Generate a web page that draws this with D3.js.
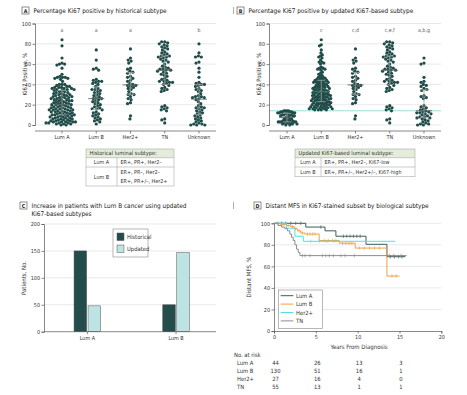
<!DOCTYPE html>
<html><head><meta charset="utf-8">
<script src="https://cdn.jsdelivr.net/npm/d3@7"></script>
<style>
body{margin:0;background:#fff}
svg{display:block}
text{font-family:"Liberation Sans Narrow","DejaVu Sans Condensed","Arial Narrow",sans-serif;}
</style>
</head><body>
<svg id="c" width="467" height="395"></svg>
<script>
// ---------------- DATA ----------------
const subtypes = ["Lum A","Lum B","Her2+","TN","Unknown"];

// Panel A: Ki67 % by historical subtype
const histLumA = [84,78,66,61,60,60,59,56,50,48,47,47,47,46,46,45,43,
 40,40,40,39,38,38,37,37,37,36,36,36,35,35,35,34,34,33,33,32,32,31,31,30,30,30,
 29,29,28,28,28,27,27,27,26,26,25,25,25,24,24,24,23,23,22,22,22,21,21,20,20,20,20,
 19,19,18,18,18,17,17,17,16,16,16,15,15,15,15,14,14,14,13,13,13,12,12,12,11,11,11,10,10,10,10,
 9,9,9,8,8,8,7,7,7,6,6,6,5,5,5,4,4,4,3,3,3,3,3,2,2,2,2,1,1,1,0,0];
const histLumB = [74,64,56,55,54,45,44,43,43,42,41,40,38,36,35,35,34,33,32,31,30,29,28,27,26,26,25,24,23,22,21,20,19,18,17,16,16,15,13,12,11,10,9,8,7,6,5,4,3,1];
const her2 = [75,66,64,63,61,56,55,53,52,51,48,47,46,44,43,41,40,39,39,38,37,36,35,33,31,30,30,28,26,25,22,21,9,6];
const tn = [82,82,81,80,79,78,77,76,75,74,72,71,70,69,68,68,67,67,66,65,64,63,62,60,58,57,56,55,55,54,
 54,53,52,51,50,49,48,46,45,44,43,43,42,42,41,40,39,37,36,35,34,33,19,18,17,16,15,14,6,5,2];
const histUnknown = [80,71,68,67,67,62,61,56,52,47,42,41,40,40,39,38,36,35,34,33,31,29,28,28,27,27,26,25,23,21,
 19,18,17,17,16,15,14,13,12,11,10,9,8,7,6,5,4,3,2,1,1,0,0,0];
const histLetters = ["a","a","a","","b"];

// Panel B: Ki67 % by updated Ki67-based subtype
const updLumA = [14,14,14,14,13,13,13,13,12,12,12,12,11,11,11,10,10,10,10,9,9,9,8,8,7,7,6,6,5,5,4,4,4,4,3,3,3,3,3,2,2,2,2,1,1,1,0,0];
const updLumB = [84,79,78,74,71,69,68,67,66,64,62,62,61,60,57,56,56,55,55,54,52,51,50,49,48,47,47,46,46,45,45,44,44,44,
 43,43,43,42,42,42,41,41,40,40,40,39,39,38,38,38,37,37,37,36,36,36,35,35,35,34,34,34,33,33,33,32,32,32,31,31,31,
 30,30,30,30,29,29,29,28,28,28,28,27,27,27,26,26,26,26,25,25,25,24,24,24,24,23,23,23,22,22,22,22,21,21,21,
 20,20,20,20,19,19,19,18,18,18,18,17,17,17,17,16,16,16,16,15,15,15,15];
const updUnknown = [66,61,60,47,43,42,40,39,38,36,35,34,29,28,27,26,19,18,17,16,15,14,13,13,12,12,11,11,10,9,8,8,7,7,6,5,4,3,2,1,1,0,0];
const updLetters = ["","c","c,d","c,e,f","a,b,g"];
const ki67Cutoff = [14];

// Panel C: patient counts
const barCategories = ["Lum A","Lum B"];
const barSeries = ["Historical","Updated"];
const historicalCounts = [150, 50];
const updatedCounts = [48, 147];

// Panel D: Kaplan-Meier distant MFS
const kmGroups = ["Lum A","Lum B","Her2+","TN"];
const kmLumA_t = [0,3.8,6.1,7.4,11.0,13.5,15.7];
const kmLumA_s = [100,96.5,93,88,80.5,69,69];
const kmLumA_c = [0.9,1.4,2.0,2.6,3.2,5.6,8.3,8.7,9.1,9.5,9.9,10.3,13.9,14.4,14.9,15.3];
const kmLumB_t = [0,0.8,1.5,2.0,2.4,2.8,3.2,3.7,5.4,7.8,9.7,13.5,15.0];
const kmLumB_s = [100,99,98,97,95,93,91,90,84,81.5,77,51,51];
const kmLumB_c = [0.4,1.0,1.2,1.7,2.2,2.6,3.0,3.4,4.0,4.3,4.6,4.9,6.0,6.5,7.0,7.4,8.2,8.6,9.0,9.3,10.2,10.8,11.4,12.0,12.6,14.1,14.6];
const kmHer2_t = [0,1.5,2.5,3.5,14.5];
const kmHer2_s = [100,95.5,88,83.3,83.3];
const kmHer2_c = [0.5,1.0,4.4,5.4,6.3,7.2];
const kmTN_t = [0,0.5,0.9,1.3,1.6,1.9,2.1,2.3,2.5,2.7,2.9,3.1,15.85];
const kmTN_s = [100,98,96.5,95,93,90,87,84,80,76,73,70,70];
const kmTN_c = [3.4,3.7,4.3,5.8,6.2,6.6,7.1,8.0,8.5,9.6,13.8,14.3,15.2];
const riskTimes = [0,5,10,15];
const riskLumA = [44,26,13,3];
const riskLumB = [130,51,16,1];
const riskHer2 = [27,16,4,0];
const riskTN = [55,13,1,1];

// ---------------- DRAWING ----------------
const svg = d3.select("#c");
const dotColor = "#1f4c48";
const axisColor = "#555";
const textColor = "#333";
const gridColor = "#e3e3e3";
const tickFont = 5.4;

function panelLabel(x, y, letter, lines){
  svg.append("rect").attr("x",x).attr("y",y).attr("width",7).attr("height",7)
    .attr("fill","none").attr("stroke","#444").attr("stroke-width",0.6);
  svg.append("text").attr("x",x+3.5).attr("y",y+5.5).attr("text-anchor","middle")
    .attr("font-size",5.3).attr("font-weight","bold").attr("fill","#222").text(letter);
  lines.forEach((l,i)=>svg.append("text").attr("x",x+11.5).attr("y",y+6+i*7.5)
    .attr("font-size",6.4).attr("fill","#222").text(l));
}

function styleAxis(g){
  g.selectAll(".domain").attr("stroke",axisColor).attr("stroke-width",0.7);
  g.selectAll(".tick line").attr("stroke",axisColor).attr("stroke-width",0.7);
  g.selectAll(".tick text").attr("fill",textColor).attr("font-size",tickFont)
    .attr("font-family",'"Liberation Sans Narrow","DejaVu Sans Condensed",sans-serif');
}

// beeswarm layout; the horizontal spread is then compressed to a maximum half-width
function swarm(values, yScale, d, maxHalf){
  const pts = values.map(v=>({v, y:yScale(v)})).sort((a,b)=>a.y-b.y);
  const placed = [];
  for (const p of pts){
    const ints = [];
    for (const q of placed){
      const dy = Math.abs(q.y-p.y);
      if (dy < d){ const dx = Math.sqrt(d*d-dy*dy); ints.push([q.x-dx, q.x+dx]); }
    }
    const cands = [0];
    ints.forEach(([a,b])=>cands.push(a,b));
    cands.sort((a,b)=>Math.abs(a)-Math.abs(b));
    for (const c of cands){
      if (ints.every(([a,b])=> c<=a+1e-6 || c>=b-1e-6)){ p.x=c; break; }
    }
    placed.push(p);
  }
  const m = d3.max(placed, p=>Math.abs(p.x));
  if (m > maxHalf){ const k = maxHalf/m; placed.forEach(p=>p.x*=k); }
  return placed;
}

function scatterPanel(o){
  const y = d3.scaleLinear().domain([0,100]).range([125,23.5]);
  const x = d3.scaleBand().domain(subtypes).range(o.band);
  const g = svg.append("g");
  g.selectAll("line.grid").data([0,20,40,60,80,100]).join("line")
    .attr("x1",o.ax).attr("x2",o.gx).attr("y1",d=>y(d)).attr("y2",d=>y(d))
    .attr("stroke",gridColor).attr("stroke-width",0.8);
  if (o.cutoff){
    g.selectAll("line.cut").data(o.cutoff).join("line")
      .attr("x1",o.ax).attr("x2",o.gx).attr("y1",d=>y(d)).attr("y2",d=>y(d))
      .attr("stroke","#8ddcd8").attr("stroke-width",0.9);
  }
  const ya = g.append("g").attr("transform",`translate(${o.ax},0)`)
    .call(d3.axisLeft(y).tickValues([0,20,40,60,80,100]).tickSize(2.5).tickPadding(1.5));
  styleAxis(ya);
  const xa = g.append("g").attr("transform","translate(0,131)")
    .call(d3.axisBottom(x).tickSize(2.5).tickPadding(2));
  styleAxis(xa);
  xa.select(".domain").attr("d",`M${o.ax},0H${o.gx}`);
  g.append("text").attr("transform",`translate(${o.ax-8.5},74) rotate(-90)`)
    .attr("text-anchor","middle").attr("font-size",6).attr("fill",textColor).text("Ki67 Positive, %");
  o.groups.forEach((vals,i)=>{
    const cx = x(subtypes[i]) + x.bandwidth()/2;
    const pts = swarm(vals, y, 3.1, o.halfW[i]);
    g.selectAll(null).data(pts).join("circle")
      .attr("cx",d=>cx+d.x).attr("cy",d=>d.y).attr("r",1.6).attr("fill",dotColor);
    const s = vals.slice().sort(d3.ascending);
    const q1 = d3.quantile(s,0.25), md = d3.quantile(s,0.5), q3 = d3.quantile(s,0.75);
    g.append("line").attr("x1",cx).attr("x2",cx).attr("y1",y(q1)).attr("y2",y(q3)).attr("stroke","#a0a0a0").attr("stroke-width",0.8);
    [q1,q3].forEach(q=>g.append("line").attr("x1",cx-4).attr("x2",cx+4).attr("y1",y(q)).attr("y2",y(q)).attr("stroke","#a0a0a0").attr("stroke-width",0.8));
    g.append("line").attr("x1",cx-8).attr("x2",cx+8).attr("y1",y(md)).attr("y2",y(md)).attr("stroke","#666").attr("stroke-width",0.9);
    g.append("text").attr("x",cx).attr("y",31.5).attr("text-anchor","middle")
      .attr("font-size",5.2).attr("fill","#555").text(o.letters[i]);
  });
}

// Panel A
panelLabel(22,7,"A",["Percentage Ki67 positive by historical subtype"]);
scatterPanel({ax:35, gx:216, band:[44.9,216.1], groups:[histLumA,histLumB,her2,tn,histUnknown],
  letters:histLetters, halfW:[16,12,11,12,12]});
// Panel B
panelLabel(237,7,"B",["Percentage Ki67 positive by updated Ki67-based subtype"]);
scatterPanel({ax:269, gx:441, band:[269.9,441.1], groups:[updLumA,updLumB,her2,tn,updUnknown],
  letters:updLetters, cutoff:ki67Cutoff, halfW:[10,12,11,12,10]});

// panel divider marks
svg.append("line").attr("x1",233.5).attr("x2",233.5).attr("y1",7).attr("y2",14).attr("stroke","#999").attr("stroke-width",0.8);
svg.append("line").attr("x1",233.5).attr("x2",233.5).attr("y1",202).attr("y2",209).attr("stroke","#999").attr("stroke-width",0.8);

// Tables
function table(o){
  const g = svg.append("g");
  g.append("rect").attr("x",o.x0).attr("y",o.rows[0]).attr("width",o.x1-o.x0).attr("height",o.rows[1]-o.rows[0])
    .attr("fill","#e3edda");
  g.append("rect").attr("x",o.x0).attr("y",o.rows[0]).attr("width",o.x1-o.x0).attr("height",o.rows[o.rows.length-1]-o.rows[0])
    .attr("fill","none").attr("stroke","#aaa").attr("stroke-width",0.6);
  o.rows.slice(1,-1).forEach(r=>g.append("line").attr("x1",o.x0).attr("x2",o.x1).attr("y1",r).attr("y2",r).attr("stroke","#aaa").attr("stroke-width",0.6));
  g.append("line").attr("x1",o.xd).attr("x2",o.xd).attr("y1",o.rows[1]).attr("y2",o.rows[o.rows.length-1]).attr("stroke","#aaa").attr("stroke-width",0.6);
  g.append("text").attr("x",o.x0+3.5).attr("y",o.rows[1]-2.3).attr("font-size",5.6).attr("fill",textColor).text(o.header);
  o.body.forEach((b,i)=>{
    const top=o.rows[i+1], bot=o.rows[i+2], mid=(top+bot)/2;
    g.append("text").attr("x",(o.x0+o.xd)/2).attr("y",mid+2).attr("text-anchor","middle").attr("font-size",5.4).attr("fill",textColor).text(b[0]);
    const lines=b[1], n=lines.length;
    lines.forEach((l,j)=>g.append("text").attr("x",o.xd+3.5).attr("y",mid+2+(j-(n-1)/2)*8.7).attr("font-size",5.4).attr("fill",textColor).text(l));
  });
}
table({x0:86,x1:174,xd:117,rows:[149,157.7,167,186],header:"Historical luminal subtype:",
  body:[["Lum A",["ER+, PR+, Her2–"]],["Lum B",["ER+, PR–, Her2–","ER+, PR+/–, Her2+"]]]});
table({x0:295,x1:415,xd:321,rows:[149,157.7,167,176.7],header:"Updated Ki67-based luminal subtype:",
  body:[["Lum A",["ER+, PR+, Her2–, Ki67-low"]],["Lum B",["ER+, PR+/–, Her2+/–, Ki67-high"]]]});

// Panel C
panelLabel(20,202,"C",["Increase in patients with Lum B cancer using updated","Ki67-based subtypes"]);
(function(){
  const y = d3.scaleLinear().domain([0,200]).range([331.7,224]);
  const x = d3.scaleBand().domain(barCategories).range([43,220.4]);
  const xs = d3.scaleBand().domain(barSeries).range([-13.3,13.3]).paddingInner(0.1);
  const g = svg.append("g");
  g.selectAll("line.grid").data([50,100,150,200]).join("line")
    .attr("x1",44).attr("x2",216).attr("y1",d=>y(d)).attr("y2",d=>y(d)).attr("stroke",gridColor).attr("stroke-width",0.8);
  const colors = {Historical:"#234d4a", Updated:"#bde4e2"};
  const vals = {Historical:historicalCounts, Updated:updatedCounts};
  barCategories.forEach((c,i)=>{
    const cx = x(c)+x.bandwidth()/2;
    barSeries.forEach(s=>{
      g.append("rect").attr("x",cx+xs(s)).attr("width",xs.bandwidth())
        .attr("y",y(vals[s][i])).attr("height",y(0)-y(vals[s][i]))
        .attr("fill",colors[s]).attr("stroke","#555").attr("stroke-width",0.5);
    });
  });
  const ya = g.append("g").attr("transform","translate(44,0)")
    .call(d3.axisLeft(y).tickValues([0,50,100,150,200]).tickSize(2.5).tickPadding(1.5));
  styleAxis(ya);
  const xa = g.append("g").attr("transform",`translate(0,${y(0)})`)
    .call(d3.axisBottom(x).tickSize(2.5).tickPadding(1.8));
  styleAxis(xa);
  xa.select(".domain").attr("d","M44,0H216");
  g.append("text").attr("transform","translate(26,278) rotate(-90)").attr("text-anchor","middle")
    .attr("font-size",6).attr("fill",textColor).text("Patients, No.");
  // legend
  g.append("rect").attr("x",113).attr("y",229).attr("width",35).attr("height",28)
    .attr("fill","#fff").attr("stroke","#888").attr("stroke-width",0.6);
  barSeries.forEach((s,i)=>{
    g.append("rect").attr("x",117).attr("y",233+i*12).attr("width",7).attr("height",7.5)
      .attr("fill",colors[s]).attr("stroke","#555").attr("stroke-width",0.5);
    g.append("text").attr("x",127).attr("y",239+i*12).attr("font-size",5.8).attr("fill",textColor).text(s);
  });
})();

// Panel D
panelLabel(254,202,"D",["Distant MFS in Ki67-stained subset by biological subtype"]);
(function(){
  const x = d3.scaleLinear().domain([0,20]).range([274,441.3]);
  const y = d3.scaleLinear().domain([0,100]).range([331,223.3]);
  const g = svg.append("g");
  g.selectAll("line.grid").data([20,40,60,80,100]).join("line")
    .attr("x1",274).attr("x2",441.3).attr("y1",d=>y(d)).attr("y2",d=>y(d)).attr("stroke",gridColor).attr("stroke-width",0.8);
  const ya = g.append("g").attr("transform","translate(274,0)")
    .call(d3.axisLeft(y).tickValues([0,20,40,60,80,100]).tickSize(2.5).tickPadding(1.5));
  styleAxis(ya);
  const xa = g.append("g").attr("transform","translate(0,331)")
    .call(d3.axisBottom(x).tickValues([0,5,10,15,20]).tickSize(2.5).tickPadding(1.8));
  styleAxis(xa);
  g.append("text").attr("transform","translate(251,277) rotate(-90)").attr("text-anchor","middle")
    .attr("font-size",6).attr("fill",textColor).text("Distant MFS, %");
  g.append("text").attr("x",359).attr("y",348.5).attr("text-anchor","middle")
    .attr("font-size",6).attr("fill",textColor).text("Years From Diagnosis");
  const series = [
    {name:"Lum A", t:kmLumA_t, s:kmLumA_s, c:kmLumA_c, color:"#3d5c5a"},
    {name:"Lum B", t:kmLumB_t, s:kmLumB_s, c:kmLumB_c, color:"#f2a03a"},
    {name:"Her2+", t:kmHer2_t, s:kmHer2_s, c:kmHer2_c, color:"#4fe0e6"},
    {name:"TN", t:kmTN_t, s:kmTN_s, c:kmTN_c, color:"#8c8c8c"}
  ];
  const line = d3.line().curve(d3.curveStepAfter).x(d=>x(d[0])).y(d=>y(d[1]));
  series.forEach(se=>{
    const pts = se.t.map((t,i)=>[t,se.s[i]]);
    g.append("path").attr("d",line(pts)).attr("fill","none").attr("stroke",se.color).attr("stroke-width",1);
    se.c.forEach(ct=>{
      let sv = se.s[0];
      se.t.forEach((t,i)=>{ if (t<=ct) sv = se.s[i]; });
      g.append("line").attr("x1",x(ct)).attr("x2",x(ct)).attr("y1",y(sv)-1.8).attr("y2",y(sv)+1.8)
        .attr("stroke",se.color).attr("stroke-width",0.6);
    });
  });
  // legend
  g.append("rect").attr("x",278.3).attr("y",290).attr("width",44).attr("height",38.3)
    .attr("fill","#fff").attr("stroke","#888").attr("stroke-width",0.6);
  series.forEach((se,i)=>{
    const yy = 295.7 + i*8.4;
    g.append("line").attr("x1",280.7).attr("x2",293.3).attr("y1",yy).attr("y2",yy).attr("stroke",se.color).attr("stroke-width",1);
    g.append("text").attr("x",296).attr("y",yy+2).attr("font-size",5.8).attr("fill",textColor).text(se.name);
  });
  // at-risk table
  g.append("text").attr("x",234).attr("y",357).attr("font-size",5.8).attr("fill",textColor).text("No. at risk");
  const risk = [riskLumA,riskLumB,riskHer2,riskTN];
  const rowY = [365,373,381,388.5];
  kmGroups.forEach((nm,i)=>{
    g.append("text").attr("x",237).attr("y",rowY[i]).attr("font-size",5.8).attr("fill",textColor).text(nm);
    riskTimes.forEach((t,j)=>g.append("text").attr("x",x(t)+1.5).attr("y",rowY[i]).attr("text-anchor","middle")
      .attr("font-size",5.8).attr("fill",textColor).text(risk[i][j]));
  });
})();
</script>
</body></html>
